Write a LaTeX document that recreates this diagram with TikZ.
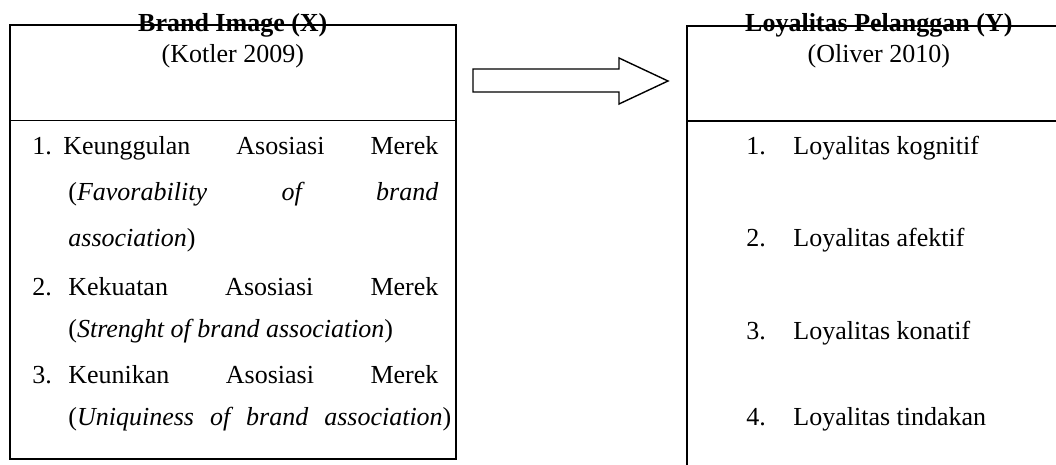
\documentclass[tikz,border=0pt]{standalone}
\usepackage{fontspec}
\setmainfont{Liberation Serif}
\usetikzlibrary{positioning,calc}

\begin{document}
\begin{tikzpicture}[x=0.5pt,y=-0.5pt,
 panel/.style={draw,line width=0.8pt,inner sep=0pt,anchor=north west},
 rule/.style={line width=0.8pt},
 title/.style={inner sep=0pt,anchor=base,font=\fontsize{13pt}{23pt}\selectfont\bfseries},
 cite/.style={inner sep=0pt,anchor=base,font=\fontsize{13pt}{23pt}\selectfont},
 num/.style={inner sep=0pt,anchor=base west,font=\fontsize{13pt}{23pt}\selectfont},
 para/.style={inner sep=0pt,anchor=base west,text width=185pt,align=justify,
   font=\fontsize{13pt}{23pt}\selectfont},
 tight/.style={font=\fontsize{13pt}{21pt}\selectfont}]
\useasboundingbox (0,0) rectangle (1056,465);
\clip (0,0) rectangle (1056,465);
% variable X
\node[panel,minimum width=223pt,minimum height=216.75pt] (boxX) at (9,24.5) {};
\draw[rule] ($(boxX.north west)+(0,96)$) coordinate (divX) -- (divX -| boxX.east);
\node[title] (titleX) at ($(boxX.north)+(0,7.2)$) {Brand Image (X)};
\node[cite] (citeX) at ($(boxX.north)+(0,38.5)$) {(Kotler 2009)};
\node[num] (nx1) at (32,155) {1.};
\node[para] (ix1) at (68,155) {\hspace{-2.5pt}Keunggulan Asosiasi Merek\linebreak
  (\textit{Favorability of brand}\linebreak \textit{association})};
\node[num] (nx2) at (32,295) {2.};
\node[para,tight] (ix2) at (68,295) {Kekuatan Asosiasi Merek\linebreak
  (\textit{Strenght of brand association})};
\node[num] (nx3) at (32,383) {3.};
\node[para,tight] (ix3) at (68,383) {Keunikan Asosiasi Merek\linebreak
  \makebox[191.5pt][s]{(\textit{Uniquiness of brand association})}};
% variable Y
\node[panel,minimum width=192pt,minimum height=230pt] (boxY) at (686,25) {};
\draw[rule] ($(boxY.north west)+(0,96)$) coordinate (divY) -- (divY -| boxY.east);
\node[title] (titleY) at ($(boxY.north)+(0,7)$) {Loyalitas Pelanggan (Y)};
\node[cite] (citeY) at ($(boxY.north)+(0,38)$) {(Oliver 2010)};
\foreach \k/\t/\y in {1/kognitif/155,2/afektif/247,3/konatif/339,4/tindakan/425}{
  \node[num] (ny\k) at (746,\y) {\k.};
  \node[num] (iy\k) at (793,\y) {Loyalitas \t};
}
% block arrow
\draw[line width=0.7pt,line join=miter] (473,69) -- (619,69) -- (619,58) -- (668,81)
  -- (619,104) -- (619,92) -- (473,92) -- cycle;
\end{tikzpicture}
\end{document}
